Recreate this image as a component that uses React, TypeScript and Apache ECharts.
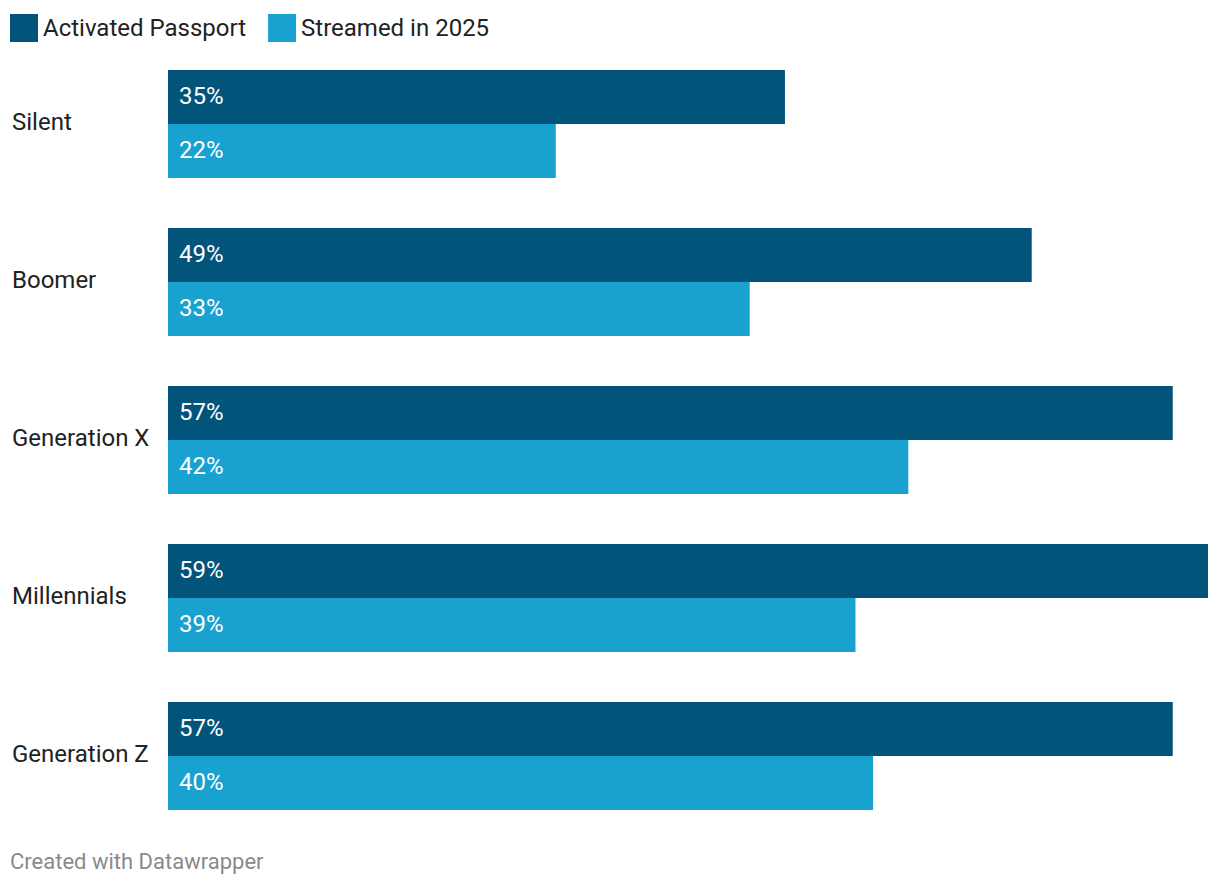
import React, { useEffect, useRef } from "react";
import * as echarts from "echarts";

const categories = ["Silent", "Boomer", "Generation X", "Millennials", "Generation Z"];
const activated = [35, 49, 57, 59, 57];
const streamed = [22, 33, 42, 39, 40];
const seriesNames = ["Activated Passport", "Streamed in 2025"];
const footer = "Created with Datawrapper";

export default function App() {
  const ref = useRef<HTMLDivElement>(null);
  useEffect(() => {
    document.body.style.margin = "0";
    const chart = echarts.init(ref.current!, null, { renderer: "svg" });
    const font = "Roboto";
    const label = {
      show: true,
      position: "insideLeft",
      distance: 11,
      offset: [0, -1],
      color: "#ffffff",
      fontFamily: font,
      fontSize: 24,
      formatter: "{c}%",
    };
    chart.setOption({
      animation: false,
      legend: {
        left: 5,
        top: 9,
        itemWidth: 28,
        itemHeight: 28,
        itemGap: 22,
        icon: "rect",
        textStyle: { fontFamily: font, fontSize: 24, color: "#222222" },
        data: seriesNames,
      },
      grid: { left: 168, top: 45, width: 1040, height: 790, containLabel: false },
      xAxis: {
        type: "value",
        min: 0,
        max: 59,
        show: false,
      },
      yAxis: {
        type: "category",
        inverse: true,
        data: categories,
        axisLine: { show: false },
        axisTick: { show: false },
        splitLine: { show: false },
        axisLabel: {
          align: "left",
          margin: 156,
          formatter: "{a|{value}}",
          rich: {
            a: {
              fontFamily: font,
              fontSize: 24,
              color: "#222222",
              padding: [0, 0, 4, 0],
            },
          },
        },
      },
      series: [
        {
          name: seriesNames[0],
          type: "bar",
          data: activated,
          barWidth: 54,
          barGap: "0%",
          itemStyle: { color: "#03547a" },
          label,
        },
        {
          name: seriesNames[1],
          type: "bar",
          data: streamed,
          barWidth: 54,
          barGap: "0%",
          itemStyle: { color: "#19a2cf" },
          label,
        },
      ],
      graphic: [
        {
          type: "text",
          left: 10,
          top: 850,
          style: { text: footer, fontFamily: font, fontSize: 22, fill: "#8a8a8a" },
        },
      ],
    });
    return () => chart.dispose();
  }, []);
  return <div ref={ref} style={{ width: 1220, height: 886 }} />;
}
